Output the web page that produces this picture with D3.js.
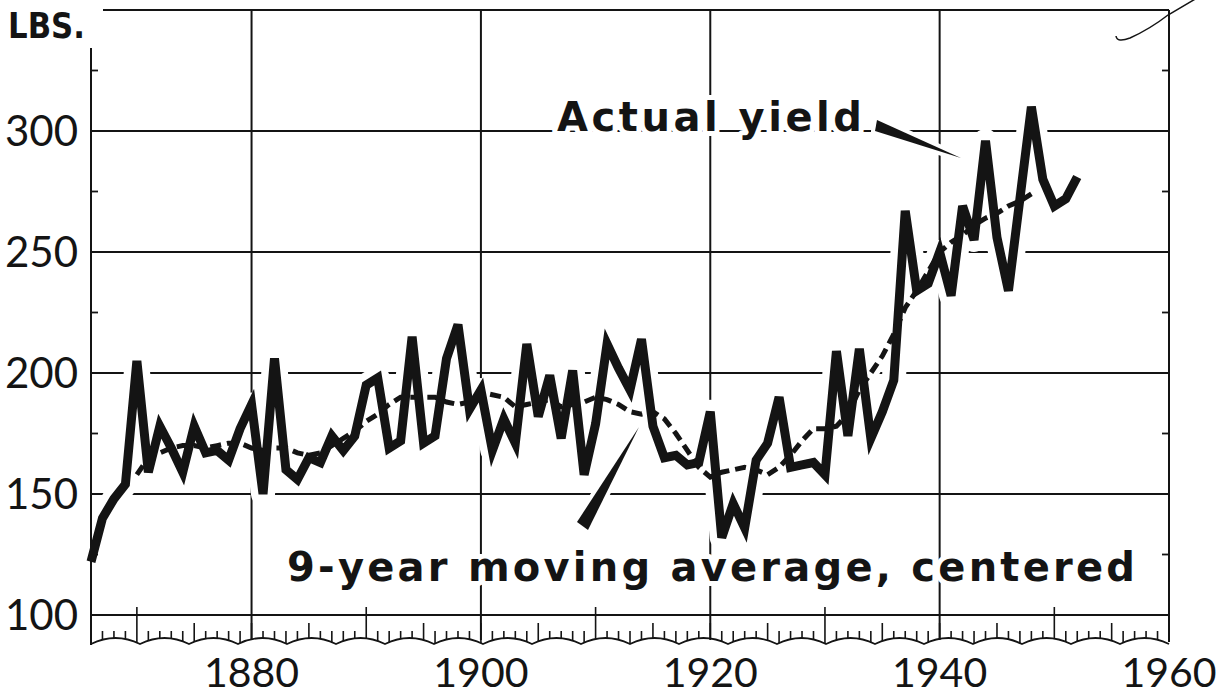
<!DOCTYPE html>
<html><head><meta charset="utf-8">
<script src="https://cdn.jsdelivr.net/npm/d3@7"></script>
<style>html,body{margin:0;padding:0;background:#fff;} svg{display:block;}</style>
</head><body><svg id="c" width="1230" height="697"></svg>
<script>
// ---- data ----
const yieldYears = [1866,1867,1868,1869,1870,1871,1872,1873,1874,1875,1876,1877,1878,1879,
  1880,1881,1882,1883,1884,1885,1886,1887,1888,1889,1890,1891,1892,1893,1894,1895,1896,1897,1898,1899,
  1900,1901,1902,1903,1904,1905,1906,1907,1908,1909,1910,1911,1912,1913,1914,1915,1916,1917,1918,1919,
  1920,1921,1922,1923,1924,1925,1926,1927,1928,1929,1930,1931,1932,1933,1934,1935,1936,1937,1938,1939,
  1940,1941,1942,1943,1944,1945,1946,1947,1948,1949,1950,1951,1952];
const yieldValues = [122,140,148,154,205,159,178,169,159,178,167,168,164,177,
  187,150,206,160,156,165,163,174,168,174,195,198,169,172,215,171,174,206,220,185,
  193,168,181,171,212,182,199,173,201,158,179,212,202,193,214,178,165,166,162,163,
  184,132,146,136,164,171,190,161,162,163,158,209,174,210,173,184,197,267,234,237,
  250,232,269,255,296,256,234,272,310,280,269,272,281];
const avgYears = [1870,1871,1872,1873,1874,1875,1876,1877,1878,1879,
  1880,1881,1882,1883,1884,1885,1886,1887,1888,1889,1890,1891,1892,1893,1894,1895,1896,1897,1898,1899,
  1900,1901,1902,1903,1904,1905,1906,1907,1908,1909,1910,1911,1912,1913,1914,1915,1916,1917,1918,1919,
  1920,1921,1922,1923,1924,1925,1926,1927,1928,1929,1930,1931,1932,1933,1934,1935,1936,1937,1938,1939,
  1940,1941,1942,1943,1944,1945,1946,1947,1948];
const avgValues = [158,165,167,169,170,170,169,170,171,171,
  169,168,169,169,167,166,167,170,173,176,180,183,187,190,190,190,190,188,187,188,
  192,191,190,186,187,188,189,186,187,188,190,189,187,184,183,184,181,175,168,161,
  157,159,160,161,160,158,161,166,172,177,177,178,183,193,200,207,216,227,234,242,
  250,254,257,261,264,266,269,271,274];
const yLabelValues = [100,150,200,250,300];
const yMinorTicks = [125,175,225,275,325];
const yGridValues = [150,200,250,300];
const xLabelYears = [1880,1900,1920,1940,1960];
const xGridYears = [1880,1900,1920,1940];
const xDecadeTicks = [1870,1890,1910,1930,1950];
const unitLabel = "LBS.";
const actualLabel = "Actual yield";
const avgLabel = "9-year moving average, centered";

// ---- layout ----
const INK = "#141414";
const svg = d3.select("#c");
const x = d3.scaleLinear().domain([1866, 1960]).range([91, 1169]);
const y = d3.scaleLinear().domain([100, 350]).range([615, 10]);
const FONT = "Lato, 'Open Sans', 'DejaVu Sans', sans-serif";
const BOLD = "'DejaVu Sans', 'Open Sans', sans-serif";

const gGrid = svg.append("g");
const gHalo = svg.append("g");
const gFrame = svg.append("g");
const gData = svg.append("g");
const gText = svg.append("g");

// grid lines
gGrid.selectAll("line.h").data(yGridValues).join("line")
  .attr("x1", x(1866)).attr("x2", x(1960))
  .attr("y1", d => y(d)).attr("y2", d => y(d))
  .attr("stroke", INK).attr("stroke-width", 2);
gGrid.selectAll("line.v").data(xGridYears).join("line")
  .attr("x1", d => x(d)).attr("x2", d => x(d))
  .attr("y1", y(350)).attr("y2", 640)
  .attr("stroke", INK).attr("stroke-width", 2);

const actual = yieldYears.map((yr, i) => [yr, yieldValues[i]]);
const avg = avgYears.map((yr, i) => [yr, avgValues[i]]);
const line = d3.line().x(d => x(d[0])).y(d => y(d[1]));

// white halos that break the grid around the curves
gHalo.append("path").attr("d", line(actual)).attr("fill", "none")
  .attr("stroke", "#fff").attr("stroke-width", 24).attr("stroke-linejoin", "round");
gHalo.append("path").attr("d", line(avg)).attr("fill", "none")
  .attr("stroke", "#fff").attr("stroke-width", 15).attr("stroke-linejoin", "round");

// frame: top line, left axis, right axis, base line
gFrame.append("line").attr("x1", 103).attr("x2", x(1960)).attr("y1", y(350)).attr("y2", y(350))
  .attr("stroke", INK).attr("stroke-width", 2);
gFrame.append("line").attr("x1", x(1866)).attr("x2", x(1866)).attr("y1", 48).attr("y2", 645)
  .attr("stroke", INK).attr("stroke-width", 2);
gFrame.append("line").attr("x1", x(1960)).attr("x2", x(1960)).attr("y1", y(350)).attr("y2", 642)
  .attr("stroke", INK).attr("stroke-width", 2);
gFrame.append("line").attr("x1", x(1866)).attr("x2", x(1960)).attr("y1", y(100)).attr("y2", y(100))
  .attr("stroke", INK).attr("stroke-width", 2);

// minor y ticks on both sides
gFrame.selectAll("line.ml").data(yMinorTicks).join("line")
  .attr("x1", x(1866)).attr("x2", x(1866) + 7).attr("y1", d => y(d)).attr("y2", d => y(d))
  .attr("stroke", INK).attr("stroke-width", 1.8);
gFrame.selectAll("line.mr").data(yMinorTicks).join("line")
  .attr("x1", x(1960) - 7).attr("x2", x(1960)).attr("y1", d => y(d)).attr("y2", d => y(d))
  .attr("stroke", INK).attr("stroke-width", 1.8);

// decorative scalloped year strip
const nArcs = 22;
const x0 = x(1866), x1 = x(1960), seg = (x1 - x0) / nArcs;
let sp = `M${x0},644`;
for (let i = 0; i < nArcs; i++) {
  const a = x0 + i * seg, b = a + seg;
  sp += ` Q${(a + b) / 2},632 ${b},644`;
}
gFrame.append("path").attr("d", sp).attr("fill", "none").attr("stroke", INK).attr("stroke-width", 1.8);
function baseY(px) {
  const t = ((px - x0) % seg) / seg;
  return 644 - 24 * t * (1 - t);
}
const allYears = d3.range(1867, 1960);
gFrame.selectAll("line.yt").data(allYears).join("line")
  .attr("x1", d => x(d)).attr("x2", d => x(d))
  .attr("y1", d => xDecadeTicks.includes(d) ? 607 : (d % 5 === 0 ? 623 : 631))
  .attr("y2", d => baseY(x(d)))
  .attr("stroke", INK).attr("stroke-width", 1.6);

// data lines
gData.append("path").attr("d", line(avg)).attr("fill", "none")
  .attr("stroke", INK).attr("stroke-width", 5).attr("stroke-dasharray", "11,6");
gData.append("path").attr("d", line(actual)).attr("fill", "none")
  .attr("stroke", INK).attr("stroke-width", 9).attr("stroke-linejoin", "miter").attr("stroke-miterlimit", 4);

// axis labels
gText.selectAll("text.yl").data(yLabelValues).join("text")
  .attr("x", 78).attr("y", d => y(d)).attr("dy", "0.36em")
  .attr("text-anchor", "end").attr("font-family", FONT).attr("font-size", 42)
  .attr("fill", INK).text(d => d);
gText.selectAll("text.xl").data(xLabelYears).join("text")
  .attr("x", d => x(d)).attr("y", 687)
  .attr("text-anchor", "middle").attr("font-family", FONT).attr("font-size", 41)
  .attr("fill", INK).text(d => d);
gText.append("text").attr("x", 8).attr("y", 38).attr("font-family", BOLD)
  .attr("font-weight", 700).attr("font-size", 35).attr("textLength", 77)
  .attr("lengthAdjust", "spacingAndGlyphs").attr("fill", INK).text(unitLabel);

// annotations
function label(txt, px, py, w) {
  gText.append("text").attr("x", px).attr("y", py).attr("font-family", BOLD)
    .attr("font-weight", 700).attr("font-size", 40).attr("textLength", w)
    .attr("lengthAdjust", "spacing").attr("fill", INK)
    .attr("stroke", "#fff").attr("stroke-width", 10).attr("paint-order", "stroke")
    .attr("stroke-linejoin", "round").text(txt);
}
label(actualLabel, 557, 131, 305);
label(avgLabel, 287, 581, 848);

function pointer(pts) {
  gText.append("polygon").attr("points", pts.map(p => p.join(",")).join(" "))
    .attr("fill", INK).attr("stroke", "#fff").attr("stroke-width", 8).attr("paint-order", "stroke")
    .attr("stroke-linejoin", "round");
}
pointer([[877, 120], [875, 131], [961, 158]]);
pointer([[577, 522], [588, 530], [639, 427]]);

// pencil mark at the top right of the original sheet
gText.append("path").attr("d", "M1116,36 Q1117,43 1130,38 Q1150,29 1168,15 L1197,-2")
  .attr("fill", "none").attr("stroke", INK).attr("stroke-width", 1.5);
</script>
</body></html>
